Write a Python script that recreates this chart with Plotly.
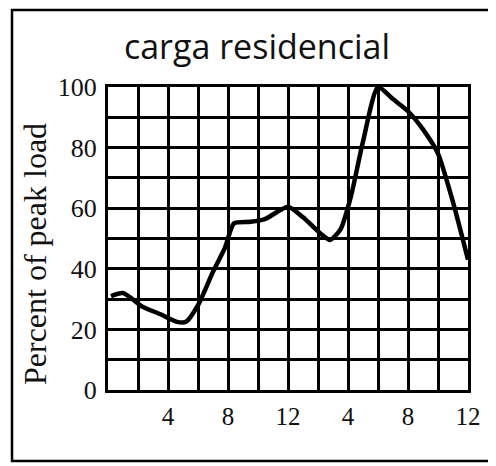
import plotly.graph_objects as go

# hours of day (0-24) and percent of peak load
hours = [0.2, 1.0, 2.3, 3.5, 4.6, 5.2, 6.0, 7.0, 7.8, 8.4, 9.5, 10.5, 12.0, 13.0,
         14.2, 14.8, 15.5, 16.2, 17.0, 18.0, 19.0, 20.0, 21.0, 22.0, 23.0, 24.0]
load = [31, 32, 27.5, 25, 22.5, 22.5, 28, 39, 47, 55, 55.5, 56.5, 60.5, 57,
        51.5, 49.5, 53, 64, 82, 100, 96, 92, 86, 78, 62, 43]

x_tickvals = [0, 2, 4, 6, 8, 10, 12, 14, 16, 18, 20, 22, 24]
x_ticktext = ["", "", "4", "", "8", "", "12", "", "4", "", "8", "", "12"]
y_tickvals = [0, 10, 20, 30, 40, 50, 60, 70, 80, 90, 100]
y_ticktext = ["0", "", "20", "", "40", "", "60", "", "80", "", "100"]

title_text = "carga residencial"
y_title = "Percent of peak load"

# page body has an 8px margin, so the figure is laid out in its own coordinates
W, H = 488, 458
L, R, T, B = 100, 28, 79, 76
pw, ph = W - L - R, H - T - B

fig = go.Figure()
fig.add_trace(go.Scatter(
    x=hours, y=load, mode="lines",
    line=dict(color="black", width=4.5, shape="spline", smoothing=0.6),
    showlegend=False, hoverinfo="skip"))

fig.update_layout(
    width=W, height=H,
    margin=dict(l=L, r=R, t=T, b=B, autoexpand=False),
    paper_bgcolor="white", plot_bgcolor="white",
    title=dict(text=title_text, x=249/W, xanchor="center",
               y=1 - 39/H, yanchor="middle",
               font=dict(family="Open Sans", size=34, color="#111")),
    xaxis=dict(range=[0, 24], tickmode="array", tickvals=x_tickvals,
               ticktext=x_ticktext, showgrid=True, gridcolor="black",
               gridwidth=3, zeroline=False, showline=True, linecolor="black",
               linewidth=3, mirror=True, ticks="", ticklabelstandoff=2,
               automargin=False,
               tickfont=dict(family="Liberation Serif", size=25, color="#111")),
    yaxis=dict(range=[0, 100], tickmode="array", tickvals=y_tickvals,
               ticktext=y_ticktext, showgrid=True, gridcolor="black",
               gridwidth=3, zeroline=False, showline=True, linecolor="black",
               linewidth=3, mirror=True, ticks="", ticklabelstandoff=3,
               automargin=False,
               tickfont=dict(family="Liberation Serif", size=26, color="#111")),
    annotations=[dict(text=y_title, xref="paper", yref="paper",
                      x=(27-L)/pw, y=(T+ph-246)/ph, xanchor="center",
                      yanchor="middle", textangle=-90, showarrow=False,
                      font=dict(family="Liberation Serif", size=32, color="#111"))],
    shapes=[dict(type="rect", xref="paper", yref="paper",
                 x0=(4-L)/pw, x1=(485-L)/pw,
                 y0=(T+ph-453)/ph, y1=(T+ph-2)/ph,
                 line=dict(color="black", width=2.5), layer="above")],
)

fig.write_html("out.html")
